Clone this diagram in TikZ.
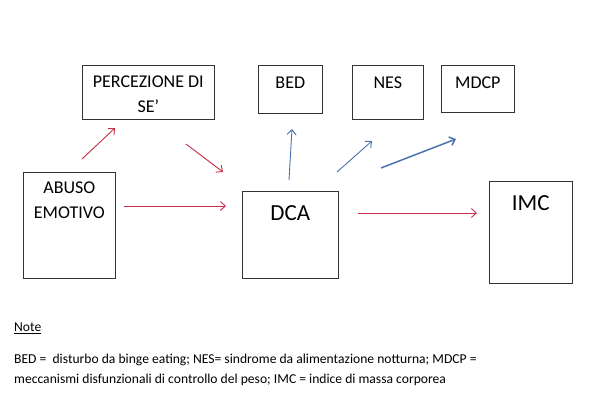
\documentclass[tikz,border=0pt]{standalone}
\usepackage{fontspec}
\setmainfont{Carlito}
\usetikzlibrary{arrows.meta}
\definecolor{redarr}{RGB}{200,45,70}
\definecolor{bluearr}{RGB}{75,115,175}
\begin{document}
\begin{tikzpicture}[x=1pt,y=-1pt,
  box/.style={draw=black!80,line width=0.6pt,anchor=north west,inner sep=0pt},
  lbl/.style={anchor=north,font=\fontsize{18}{25}\selectfont,align=center,inner sep=0pt},
  biglbl/.style={anchor=north,font=\fontsize{23}{26}\selectfont,inner sep=0pt},
  redline/.style={draw=redarr,line width=0.9pt,-{Straight Barb[length=5pt,width=9pt]}},
  blueline/.style={draw=bluearr,line width=0.9pt,-{Straight Barb[length=5pt,width=9pt]}},
  notetxt/.style={anchor=west,font=\fontsize{13.6}{20}\selectfont,inner sep=0pt}]
\useasboundingbox[fill=white] (0,0) rectangle (600,405);
% boxes
\node[box,minimum width=132pt,minimum height=54pt] (perc) at (82,65) {};
\node[box,minimum width=92pt,minimum height=106pt] (abuso) at (23,172) {};
\node[box,minimum width=96pt,minimum height=87pt] (dca) at (242,191) {};
\node[box,minimum width=64pt,minimum height=48pt] (bed) at (258,65) {};
\node[box,minimum width=71pt,minimum height=54pt] (nes) at (352,65) {};
\node[box,minimum width=73pt,minimum height=47pt] (mdcp) at (441,65) {};
\node[box,minimum width=83pt,minimum height=102pt] (imc) at (489,181) {};
% labels
\node[lbl] (percT) at ([yshift=-11pt]perc.north) {PERCEZIONE DI\\SE’};
\node[lbl] (abusoT) at ([yshift=-10pt]abuso.north) {ABUSO\\EMOTIVO};
\node[biglbl] (dcaT) at ([yshift=-14pt]dca.north) {DCA};
\node[lbl] (bedT) at ([yshift=-12pt]bed.north) {BED};
\node[lbl] (nesT) at ([yshift=-12pt]nes.north) {NES};
\node[lbl] (mdcpT) at ([yshift=-12pt]mdcp.north) {MDCP};
\node[biglbl] (imcT) at ([yshift=-14pt]imc.north) {IMC};
% arrow end points
\coordinate (a1s) at (82,159);  \coordinate (a1e) at (115,128);
\coordinate (a2s) at (186,144); \coordinate (a2e) at (223,172);
\coordinate (a3s) at (124,206); \coordinate (a3e) at (226,206);
\coordinate (a4s) at (358,213); \coordinate (a4e) at (477,213);
\coordinate (b1s) at (289,180); \coordinate (b1e) at (292,129);
\coordinate (b2s) at (337,172); \coordinate (b2e) at (372,141);
\coordinate (b3s) at (381,168); \coordinate (b3e) at (456,139);
\draw[redline] (a1s) -- (a1e);
\draw[redline] (a2s) -- (a2e);
\draw[redline] (a3s) -- (a3e);
\draw[redline] (a4s) -- (a4e);
\draw[blueline] (b1s) -- (b1e);
\draw[blueline] (b2s) -- (b2e);
\draw[blueline,line width=1.5pt] (b3s) -- (b3e);
% notes
\node[notetxt] (note) at (14,328) {\underline{Note}};
\node[notetxt] (n1) at (14,360) {BED =\ \ disturbo da binge eating; NES= sindrome da alimentazione notturna; MDCP =};
\node[notetxt] (n2) at (14,380) {meccanismi disfunzionali di controllo del peso; IMC = indice di massa corporea};
\end{tikzpicture}
\end{document}
